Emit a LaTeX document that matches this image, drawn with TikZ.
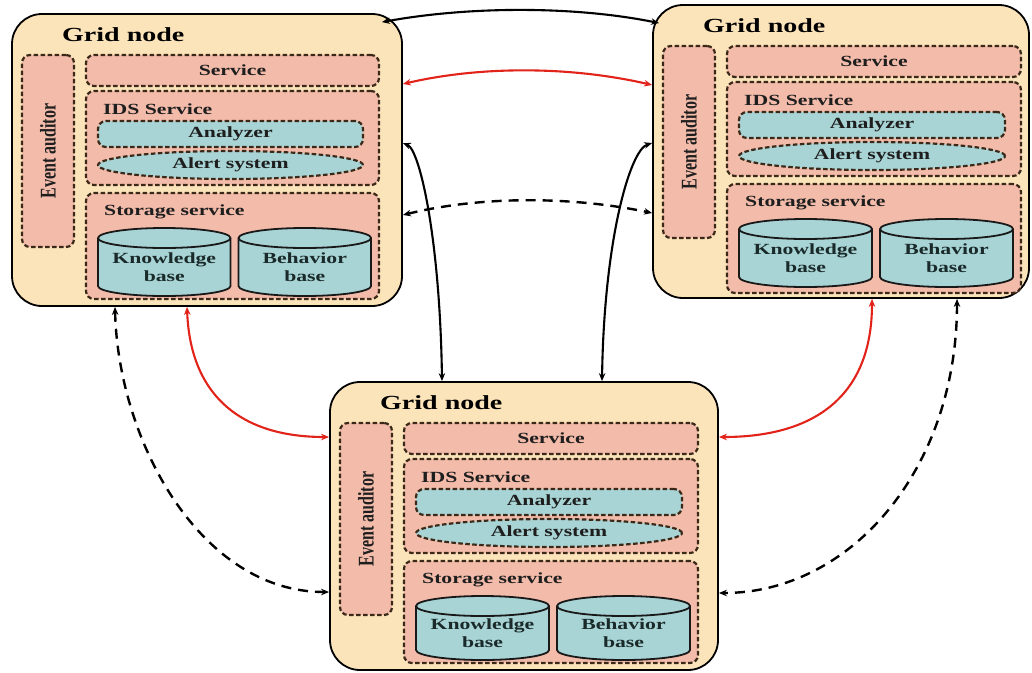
\documentclass[tikz,border=0pt]{standalone}
\usepackage{fontspec}
\newfontfamily\wfont{Liberation Serif}[FakeStretch=1.4]
\newfontfamily\nfont{Liberation Serif}
\usetikzlibrary{arrows.meta,shapes.geometric,fit,calc}
\definecolor{peach}{HTML}{FCE4BA}
\definecolor{pinkbox}{HTML}{F3BBAA}
\definecolor{tealbox}{HTML}{A9D4D5}
\definecolor{dashc}{HTML}{3A2818}
\definecolor{txtc}{HTML}{1E1E1E}
\definecolor{cyltxt}{HTML}{1A2A2A}
\definecolor{redc}{HTML}{E2231A}
\tikzset{
 outer/.style={draw=black, line width=1.8pt, fill=peach, rounded corners=30pt, inner sep=0pt},
 dbox/.style={inner sep=0pt, draw=dashc, line width=2.2pt, dash pattern=on 4.5pt off 2.5pt, fill=pinkbox, rounded corners=8pt},
 tbox/.style={dbox, fill=tealbox},
 ebox/.style={ellipse, inner sep=0pt, draw=dashc, line width=2.2pt, dash pattern=on 4.5pt off 2.5pt, fill=tealbox},
 title/.style={font=\wfont\bfseries\fontsize{20}{24}\selectfont, text=black, inner sep=0pt},
 lbl/.style={font=\wfont\bfseries\fontsize{15.5}{18}\selectfont, text=txtc, inner sep=0pt},
 clbl/.style={lbl, align=center, text=cyltxt},
 vlbl/.style={font=\nfont\bfseries\fontsize{16}{18}\selectfont, text=txtc, inner sep=0pt, rotate=90},
 cyl/.style={draw=black!90, line width=1.8pt, fill=tealbox},
 tipb/.tip={Stealth[length=8pt,width=6.5pt]},
 blk/.style={draw=black, line width=2.1pt, tipb-tipb},
 redarr/.style={draw=redc, line width=2.1pt, tipb-tipb},
 dsh/.style={draw=black, line width=2.4pt, dash pattern=on 10pt off 7pt, tipb-tipb},
}
% #1 name, #2 x1, #3 x2, #4 top, #5 bottom, #6 text
\newcommand\mycyl[6]{%
 \pgfmathsetmacro\cyx{(#2+#3)/2}%
 \pgfmathsetlengthmacro\cyr{(#3-#2)/2}%
 \pgfmathsetmacro\cyt{#4+10}%
 \pgfmathsetmacro\cyb{#5-10}%
 \draw[cyl] (#2,\cyt) -- (#2,\cyb) arc[start angle=180,end angle=360,x radius=\cyr,y radius=10pt] -- (#3,\cyt) arc[start angle=0,end angle=180,x radius=\cyr,y radius=10pt] -- cycle;
 \draw[cyl, fill=none] (#2,\cyt) arc[start angle=180,end angle=360,x radius=\cyr,y radius=10pt];
 \node[clbl] (#1) at (\cyx,{(\cyt+#5)/2}) {#6};
}
% #1 name, #2 ox, #3 oy, #4 W, #5 H, #6 inner right, #7 storage bottom, #8 cylinder bottom
\newcommand\mygrid[8]{%
 \begin{scope}[shift={(#2,#3)}]
  \node[outer, minimum width=#4, minimum height=#5] (#1) at ({#4/2},{#5/2}) {};
  \node[title, anchor=west] (#1t) at (50,21) {Grid node};
  \node[dbox, fit={(10,41) (62,233)}] (#1ea) {};
  \node[vlbl] (#1eat) at (#1ea.center) {\scalebox{1}[1.4]{Event auditor}};
  \node[dbox, fit={(74,41) (#6,72)}] (#1svc) {};
  \node[lbl] (#1svct) at (#1svc.center) {Service};
  \node[dbox, fit={(74,77) (#6,171)}] (#1ids) {};
  \node[lbl, anchor=west] (#1idst) at (91,95) {IDS Service};
  \node[tbox, fit={(86,107) (#6-16,133)}] (#1an) {};
  \node[lbl] (#1ant) at (#1an.center) {Analyzer};
  \node[ebox, minimum width={#6-102}, minimum height=28] (#1al) at ({(70+#6)/2},151) {};
  \node[lbl] (#1alt) at (#1al.center) {Alert system};
  \node[dbox, fit={(74,179) (#6,#7)}] (#1st) {};
  \node[lbl, anchor=west] (#1stt) at (92,198) {Storage service};
  \pgfmathsetmacro\gm{(78+#6)/2}%
  \pgfmathsetmacro\ga{\gm-4}%
  \pgfmathsetmacro\gb{\gm+4}%
  \pgfmathsetmacro\gc{#6-8}%
  \mycyl{#1kb}{86}{\ga}{214}{#8}{Knowledge\\base}
  \mycyl{#1bb}{\gb}{\gc}{214}{#8}{Behavior\\base}
 \end{scope}
}
\begin{document}
\begin{tikzpicture}[x=1pt,y=-1pt]
 \fill[white] (0,0) rectangle (1032,672);
 \useasboundingbox (0,0) rectangle (1032,672);
 \mygrid{A}{12}{14}{390}{292}{367}{285}{282}
 \mygrid{B}{653}{5}{376}{293}{368}{288}{282}
 \mygrid{C}{330}{382}{388}{288}{368}{281}{278}
 % connectors
 \draw[blk] ($(A.north east)+(-21,9)$) .. controls (470,6) and (575,6) .. ($(B.north west)+(7,19)$);
 \draw[redarr] (A.east |- 0,84) .. controls (480,66) and (570,66) .. (B.west |- 0,85);
 \draw[blk] (A.east |- 0,143) .. controls (420,150) and (440,240) .. (C.north -| 442,0);
 \draw[blk] (B.west |- 0,143) .. controls (630,150) and (604,240) .. (C.north -| 602,0);
 \draw[dsh] (A.east |- 0,215) .. controls (480,196) and (570,196) .. (B.west |- 0,213);
 \draw[dsh] (A.south -| 115,0) .. controls (118,440) and (200,592) .. (C.west |- 0,592);
 \draw[redarr] (A.south -| 187,0) .. controls (190,390) and (235,437) .. (C.west |- 0,437);
 \draw[redarr] (B.south -| 872,0) .. controls (872,400) and (810,437) .. (C.east |- 0,437);
 \draw[dsh] (B.south -| 957,0) .. controls (957,470) and (850,593) .. (C.east |- 0,593);
\end{tikzpicture}
\end{document}
